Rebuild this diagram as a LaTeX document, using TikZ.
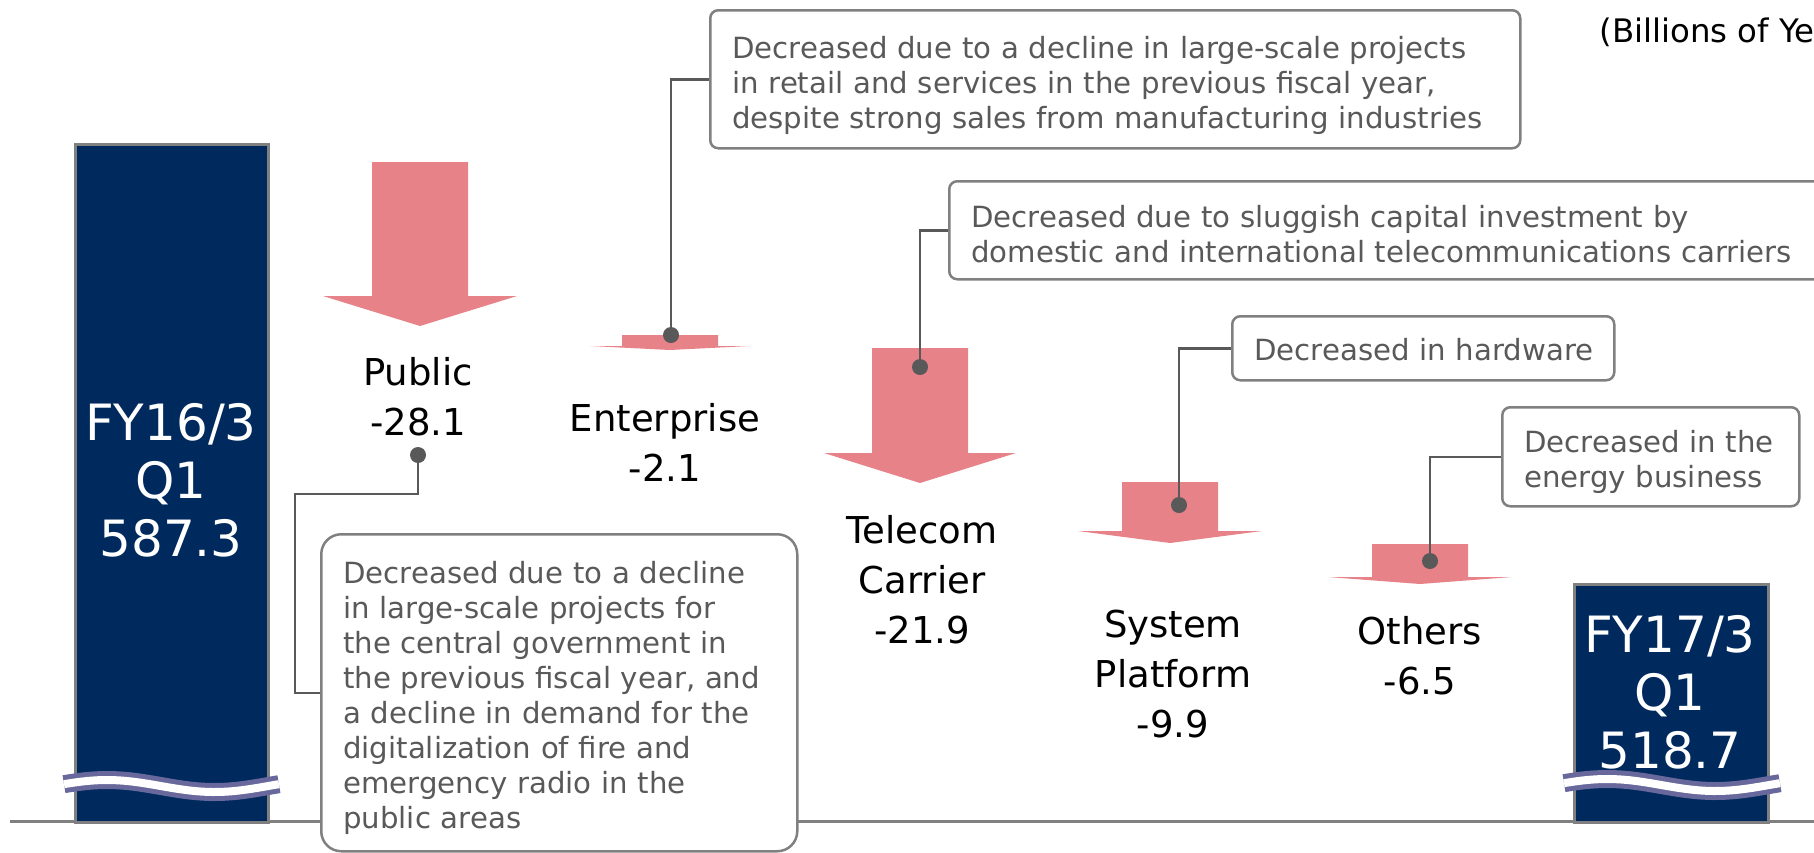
\documentclass[tikz,border=0pt]{standalone}
\usepackage{fontspec}
\setmainfont{DejaVu Sans}
\definecolor{navy}{RGB}{0,42,94}
\definecolor{bargray}{RGB}{128,128,128}
\definecolor{pinkarr}{RGB}{232,130,137}
\definecolor{wavep}{RGB}{104,104,156}
\definecolor{txtgray}{RGB}{89,89,89}
\definecolor{conngray}{RGB}{89,89,89}
\definecolor{boxgray}{RGB}{128,128,128}
\newcommand\DecArrow[5]{\fill[pinkarr] ({#1-48},#2) -- ({#1+48},#2) -- ({#1+48},#3) -- ({#1+#5},#3) -- (#1,#4) -- ({#1-#5},#3) -- ({#1-48},#3) -- cycle;}
\newcommand\topstrut[1]{\rule{0pt}{#1}}
\begin{document}
\begin{tikzpicture}[x=0.5pt,y=-0.5pt,
  bar/.style={draw=bargray,line width=1.5pt,fill=navy,inner sep=0pt,anchor=north west},
  bartext/.style={text=white,font=\fontsize{25}{29}\selectfont,align=center,inner sep=0pt},
  lbl/.style={text=black,font=\fontsize{18.5}{25}\selectfont,align=center,inner sep=0pt},
  callout/.style={draw=boxgray,line width=1.25pt,rounded corners=4pt,fill=white,text=txtgray,font=\fontsize{14.6}{17.5}\selectfont,align=left,inner xsep=11pt,inner ysep=0pt,anchor=north west},
  conn/.style={draw=conngray,line width=1.25pt},
  dot/.style={fill=conngray},
  wave/.style={line width=9pt,draw=wavep},
  wavein/.style={line width=4pt,draw=white},
  axisline/.style={draw=bargray,line width=1.5pt}]

\path[use as bounding box] (0,0) rectangle (1814,852);
\clip (0,0) rectangle (1814,852);

% axis
\coordinate (axL) at (10,821);
\coordinate (axR) at (1814,821);
\draw[axisline] (axL) -- (axR);

% bars
\node[bar,minimum width=96.5pt,minimum height=339pt] (bar1) at (74,143) {};
\node[bartext] (bar1t) at (171,480) {FY16/3\\Q1\\587.3};
\node[bar,minimum width=97pt,minimum height=119pt] (bar2) at (1573,583) {};
\node[bartext] (bar2t) at (1670,692) {FY17/3\\Q1\\518.7};

% break marks
\draw[wave] plot[domain=0:1,samples=40] ({64+215*\x},{786+6*sin(360*(\x-0.45))});
\draw[wavein] plot[domain=0:1,samples=40] ({64+215*\x},{786+6*sin(360*(\x-0.45))});
\draw[wave] plot[domain=0:1,samples=40] ({1564+216*\x},{785+6*sin(360*(\x-0.45))});
\draw[wavein] plot[domain=0:1,samples=40] ({1564+216*\x},{785+6*sin(360*(\x-0.45))});

% unit
\node[anchor=west,font=\fontsize{16.2}{19}\selectfont,inner sep=0pt] (unit) at (1599,32) {(Billions of Yen)};

% decrease arrows
\DecArrow{420}{162}{296}{326}{97}
\DecArrow{670}{335}{346}{350}{80}
\DecArrow{920}{348}{453}{483}{96}
\DecArrow{1170}{482}{531}{543}{92}
\DecArrow{1420}{544}{577}{584}{92}

% labels
\node[lbl] (lPub) at (418,397) {Public\\-28.1};
\node[lbl] (lEnt) at (665,442) {Enterprise\\-2.1};
\node[lbl] (lTel) at (922,580) {Telecom\\Carrier\\-21.9};
\node[lbl] (lSys) at (1173,674) {System\\Platform\\-9.9};
\node[lbl] (lOth) at (1420,656) {Others\\-6.5};

% callouts
\node[callout,minimum width=405pt,minimum height=69pt,text width=383pt] (cEnt) at (709,9)
 {\topstrut{17pt}\mbox{Decreased due to a decline in large-scale projects}\\\mbox{in retail and services in the previous fiscal year,}\\\mbox{despite strong sales from manufacturing industries}};
\node[callout,minimum width=450pt,minimum height=49pt,text width=428pt] (cTel) at (948,180)
 {\topstrut{14.5pt}\mbox{Decreased due to sluggish capital investment by}\\\mbox{domestic and international telecommunications carriers}};
\node[callout,minimum width=191pt,minimum height=32pt,text width=169pt] (cSys) at (1231,315)
 {\topstrut{12pt}\mbox{Decreased in hardware}};
\node[callout,minimum width=148.5pt,minimum height=49.5pt,text width=126.5pt] (cOth) at (1501,406)
 {\topstrut{16pt}\mbox{Decreased in the}\\\mbox{energy business}};
\node[callout,rounded corners=10pt,minimum width=238pt,minimum height=158.5pt,text width=216pt] (cPub) at (320,533)
 {\topstrut{16pt}\mbox{Decreased due to a decline}\\\mbox{in large-scale projects for}\\\mbox{the central government in}\\\mbox{the previous fiscal year, and}\\\mbox{a decline in demand for the}\\\mbox{digitalization of fire and}\\\mbox{emergency radio in the}\\\mbox{public areas}};

% connector points
\coordinate (dPub) at (418,455);
\coordinate (pPub) at (295,494);
\coordinate (dEnt) at (671,335);
\coordinate (dTel) at (920,367);
\coordinate (dSys) at (1179,505);
\coordinate (dOth) at (1430,561);

\draw[conn] (dPub) |- (pPub) |- (cPub.west);
\draw[conn] (dEnt) |- (cEnt.west);
\draw[conn] (dTel) |- (cTel.west);
\draw[conn] (dSys) |- (cSys.west);
\draw[conn] (dOth) |- (cOth.west);

\fill[dot] (dPub) circle[radius=4pt];
\fill[dot] (dEnt) circle[radius=4pt];
\fill[dot] (dTel) circle[radius=4pt];
\fill[dot] (dSys) circle[radius=4pt];
\fill[dot] (dOth) circle[radius=4pt];
\end{tikzpicture}
\end{document}
